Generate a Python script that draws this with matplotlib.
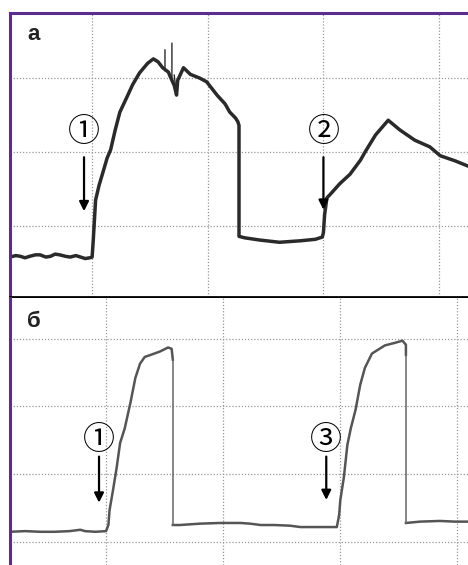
import matplotlib.pyplot as plt

# panel а: time and amplitude in grid divisions
ta = [0.29, 0.34, 0.38, 0.42, 0.46, 0.51, 0.55, 0.60, 0.64, 0.68,
      0.72, 0.77, 0.81, 0.86, 0.90, 0.94, 0.98, 1.00,
      1.01, 1.02, 1.03, 1.06, 1.10, 1.13, 1.16, 1.20, 1.24, 1.30,
      1.35, 1.41, 1.48, 1.53, 1.57, 1.61, 1.66, 1.67, 1.71, 1.73,
      1.74, 1.79, 1.85, 1.93, 1.99, 2.08, 2.15,
      2.19, 2.24, 2.26, 2.27, 2.27, 2.32, 2.45, 2.62, 2.80, 2.93,
      2.99, 3.00, 3.01, 3.03, 3.06, 3.14, 3.23, 3.32, 3.36, 3.45,
      3.56, 3.66, 3.79, 3.92, 4.01, 4.14, 4.25]
va = [-0.42, -0.40, -0.41, -0.43, -0.41, -0.39, -0.39, -0.42, -0.41, -0.38,
      -0.39, -0.41, -0.42, -0.40, -0.42, -0.44, -0.43, -0.42,
      -0.19, 0.08, 0.35, 0.55, 0.76, 0.92, 1.03, 1.30, 1.54, 1.74,
      1.91, 2.07, 2.20, 2.26, 2.22, 2.14, 2.08, 2.04, 1.90, 1.77,
      1.97, 2.14, 2.05, 2.00, 1.95, 1.77, 1.65,
      1.54, 1.46, 1.41, 1.36, -0.14, -0.16, -0.19, -0.22, -0.20, -0.18,
      -0.15, -0.09, 0.15, 0.38, 0.43, 0.57, 0.70, 0.89, 1.00, 1.23,
      1.43, 1.30, 1.16, 1.07, 0.95, 0.88, 0.81]

# narrow spikes on top of the first hump
spike_t = [1.63, 1.63, None, 1.69, 1.69, None, 1.71, 1.73]
spike_v = [2.10, 2.38, None, 2.47, 2.00, None, 2.04, 1.77]

# panel б
tb = [0.18, 0.31, 0.44, 0.56, 0.69, 0.78, 0.82, 0.91, 1.00, 1.02,
      1.03, 1.06, 1.09, 1.12, 1.16, 1.21, 1.25, 1.29, 1.33, 1.38,
      1.46, 1.53, 1.56, 1.57]
vb = [0.15, 0.16, 0.15, 0.15, 0.16, 0.18, 0.16, 0.15, 0.16, 0.25,
      0.47, 0.77, 1.09, 1.46, 1.68, 2.07, 2.42, 2.63, 2.73, 2.76,
      2.81, 2.87, 2.85, 2.69]
tb2 = [1.57, 1.63, 1.80, 1.97, 2.15, 2.23,
       2.32, 2.44, 2.57, 2.66, 2.83, 2.97, 2.99, 3.00, 3.03, 3.06,
       3.09, 3.13, 3.17, 3.21, 3.27, 3.38, 3.47, 3.53, 3.56, 3.56]
vb2 = [0.25, 0.25, 0.27, 0.28, 0.28, 0.27,
       0.25, 0.25, 0.24, 0.22, 0.22, 0.22, 0.40, 0.62, 0.95, 1.43,
       1.68, 1.95, 2.32, 2.57, 2.78, 2.90, 2.94, 2.97, 2.91, 2.76]
tb3 = [3.56, 3.68, 3.85, 3.98, 4.09]
vb3 = [0.28, 0.30, 0.31, 0.30, 0.30]

# markers: label, time, label height, arrow top, arrow tip
marks_a = [("①", 0.93, 1.27, 0.93, 0.20), ("②", 3.00, 1.27, 0.93, 0.22)]
marks_b = [("①", 0.94, 1.51, 1.26, 0.58), ("③", 2.88, 1.51, 1.26, 0.62)]

purple = "#5b2d8e"
fig = plt.figure(figsize=(4.68, 5.65), dpi=100)
ax_a = fig.add_axes([10 / 468, 268 / 565, 458 / 468, 284 / 565])
ax_b = fig.add_axes([10 / 468, 0, 458 / 468, 267 / 565])

ax_a.plot(ta, va, color="#2a2a2a", lw=2.5, solid_joinstyle="round")
ax_a.plot(spike_t, spike_v, color="#2a2a2a", lw=1.0)
ax_a.set_xlim(0.29, 4.25)
ax_a.set_ylim(-0.96, 2.88)
ax_a.set_yticks([0, 1, 2])

gray = "#555555"
ax_b.plot(tb, vb, color=gray, lw=1.8, solid_joinstyle="round")
ax_b.plot(tb2, vb2, color=gray, lw=1.8, solid_joinstyle="round")
ax_b.plot(tb3, vb3, color=gray, lw=1.8, solid_joinstyle="round")
# falling edges are drawn thinner
ax_b.plot([tb[-1], tb2[0]], [vb[-1], vb2[0]], color="#666666", lw=1.1)
ax_b.plot([tb2[-1], tb3[0]], [vb2[-1], vb3[0]], color="#666666", lw=1.1)
ax_b.set_xlim(0.18, 4.09)
ax_b.set_ylim(-0.34, 3.60)
ax_b.set_yticks([0, 1, 2, 3])

for ax in (ax_a, ax_b):
    ax.set_xticks([1, 2, 3, 4])
    ax.grid(True, color="#999999", lw=0.9, ls=(0, (1, 1.5)))
    ax.tick_params(length=0, labelbottom=False, labelleft=False)
    for s in ax.spines.values():
        s.set_visible(False)

ax_a.spines["left"].set_visible(True)
ax_a.spines["top"].set_visible(True)
ax_a.spines["bottom"].set_visible(True)
ax_a.spines["left"].set_color(purple)
ax_a.spines["top"].set_color(purple)
ax_a.spines["left"].set_linewidth(2.2)
ax_a.spines["top"].set_linewidth(2.2)
ax_a.spines["bottom"].set_color("black")
ax_a.spines["bottom"].set_linewidth(2.0)
ax_b.spines["left"].set_visible(True)
ax_b.spines["left"].set_color(purple)
ax_b.spines["left"].set_linewidth(2.2)

for ax, marks in ((ax_a, marks_a), (ax_b, marks_b)):
    for lab, t, yl, y0, y1 in marks:
        ax.annotate("", xy=(t, y1), xytext=(t, y0),
                    arrowprops=dict(arrowstyle="-|>", color="black", lw=1.6,
                                    mutation_scale=14, shrinkA=0, shrinkB=0))
        ax.text(t, yl, lab, ha="center", va="center", fontsize=23,
                family=["Noto Sans CJK SC", "DejaVu Sans"], color="black")

ax_a.text(0.037, 0.905, "а", transform=ax_a.transAxes, fontsize=16,
          fontweight="bold", family="Liberation Sans", color="#222222")
ax_b.text(0.037, 0.891, "б", transform=ax_b.transAxes, fontsize=16,
          fontweight="bold", family="Liberation Sans", color="#222222")

fig.savefig("out.png", dpi=100)
